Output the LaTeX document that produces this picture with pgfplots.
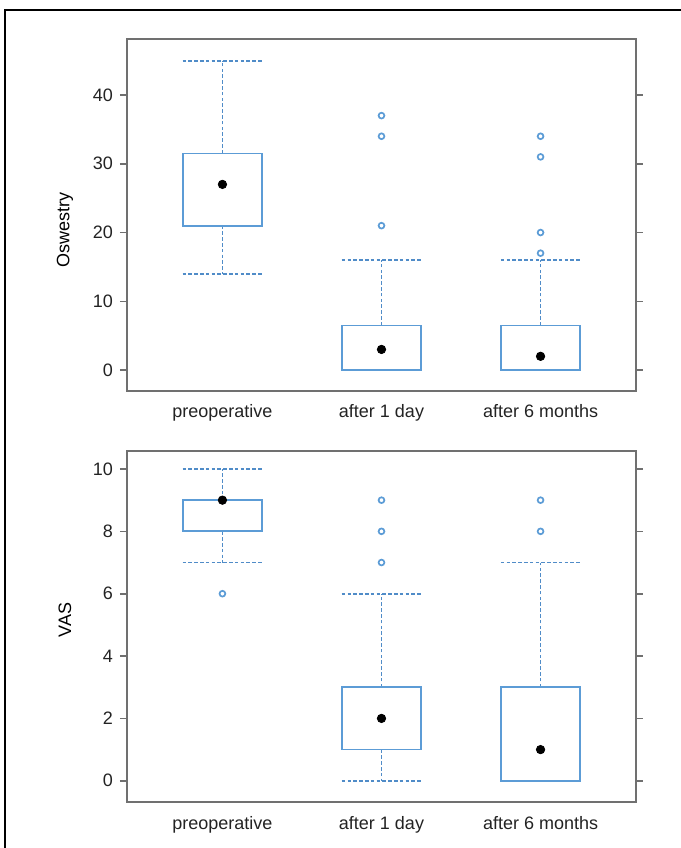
\documentclass[border=0pt]{standalone}
\usepackage{fontspec}
\setmainfont{Liberation Sans}
\usepackage{pgfplots}
\pgfplotsset{compat=1.18}
\usepgfplotslibrary{statistics}
\definecolor{boxblue}{RGB}{92,156,214}
\definecolor{whiskblue}{RGB}{80,140,200}
\definecolor{axgray}{RGB}{112,112,112}
\definecolor{txt}{RGB}{35,35,35}

\begin{document}
\begin{tikzpicture}
\useasboundingbox (0pt,0pt) rectangle (340.5pt,424pt);
\draw[black, line width=0.6pt] (2.5pt,-1pt) -- (2.5pt,419pt) -- (341pt,419pt);
\pgfplotsset{
  mybox/.style={
    scale only axis, width=254.5pt, height=175.7pt,
    xmin=0.4, xmax=3.6,
    xtick={1,2,3}, xticklabels={preoperative, after 1 day, after 6 months},
    xtick style={draw=none},
    tick align=outside,
    major tick length=3.5pt,
    ytick style={axgray, line width=0.8pt},
    axis line style={axgray, line width=1pt},
    font=\fontsize{9}{10}\selectfont,
    ticklabel style={txt}, label style={txt},
    /pgf/number format/assume math mode=true,
    boxplot/draw direction=y,
    boxplot/box extend=0.5,
    boxplot/whisker extend=0.5,
    boxplot/every box/.style={draw=boxblue, line width=0.85pt},
    boxplot/every whisker/.style={draw=whiskblue, line width=0.9pt, dash pattern=on 1.8pt off 1.1pt},
    boxplot/every median/.style={draw=none},
    clip=false,
  },
  outl/.style={draw=boxblue, mark=o, mark size=1.45pt, mark options={draw=boxblue, line width=0.85pt, solid}},
  meddot/.style={only marks, mark=*, mark size=2.1pt, mark options={fill=black, draw=black}},
}
% ---------- top: Oswestry ----------
\begin{axis}[mybox, at={(63.5pt,228.65pt)}, anchor=south west,
  ymin=-3, ymax=48.1, ytick={0,10,20,30,40},
  ylabel={Oswestry},
  every axis y label/.style={at={(axis description cs:-0.1218,0.458)}, rotate=90, anchor=center}]
\addplot[outl, boxplot prepared={draw position=1, lower whisker=14, lower quartile=21, median=27, upper quartile=31.5, upper whisker=45}] coordinates {};
\addplot[outl, boxplot prepared={draw position=2, lower whisker=0, lower quartile=0, median=3, upper quartile=6.5, upper whisker=16}] table[row sep=\\, y index=0] {37\\34\\21\\};
\addplot[outl, boxplot prepared={draw position=3, lower whisker=0, lower quartile=0, median=2, upper quartile=6.5, upper whisker=16}] table[row sep=\\, y index=0] {34\\31\\20\\17\\};
\addplot[meddot] coordinates {(1,27) (2,3) (3,2)};
\end{axis}
% ---------- bottom: VAS ----------
\begin{axis}[mybox, at={(63.5pt,22.85pt)}, anchor=south west,
  ymin=-0.69, ymax=10.58, ytick={0,2,4,6,8,10},
  ylabel={VAS},
  every axis y label/.style={at={(axis description cs:-0.1218,0.518)}, rotate=90, anchor=center}]
\addplot[outl, boxplot prepared={draw position=1, lower whisker=7, lower quartile=8, median=9, upper quartile=9, upper whisker=10}] table[row sep=\\, y index=0] {6\\};
\addplot[outl, boxplot prepared={draw position=2, lower whisker=0, lower quartile=1, median=2, upper quartile=3, upper whisker=6}] table[row sep=\\, y index=0] {9\\8\\7\\};
\addplot[outl, boxplot prepared={draw position=3, lower whisker=0, lower quartile=0, median=1, upper quartile=3, upper whisker=7}] table[row sep=\\, y index=0] {9\\8\\};
\addplot[meddot] coordinates {(1,9) (2,2) (3,1)};
\end{axis}
\end{tikzpicture}
\end{document}
